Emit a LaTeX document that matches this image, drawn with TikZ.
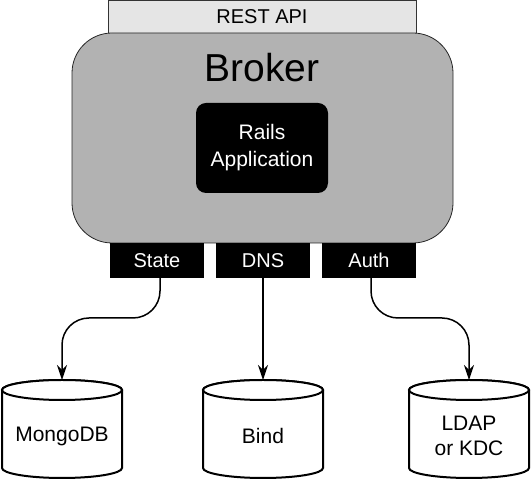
\documentclass[tikz,border=0pt]{standalone}
\usepackage{fontspec}
\setmainfont{Liberation Sans}
\usepackage{tikz}
\usetikzlibrary{arrows.meta}

\tikzset{
  iface/.style={fill=black, text=white, minimum width=94pt, minimum height=35pt,
                inner sep=0pt, font=\fontsize{20}{24}\selectfont},
  dblabel/.style={align=center, font=\fontsize{21}{25}\selectfont},
  dbcyl/.style={line width=2pt, fill=white},
  link/.style={line width=1.5pt, rounded corners=27pt,
               -{Stealth[length=15pt,width=10pt,inset=5pt]}}
}

\begin{document}
\begin{tikzpicture}[x=1pt,y=1pt]
    \useasboundingbox (0,0) rectangle (531,479);

    % REST API strip
    \node (rest) [draw=black!80, fill=black!10, line width=0.8pt, minimum width=308pt,
                  minimum height=33pt, inner sep=0pt, font=\fontsize{20}{24}\selectfont]
                  at (262,462.5) {REST API};

    % Broker
    \node (broker) [draw=black!85, fill=black!30, line width=0.8pt, rounded corners=40pt,
                    minimum width=381pt, minimum height=210pt] at (262.5,341) {};
    \node (brokerlbl) [anchor=base, font=\fontsize{39}{44}\selectfont] at (262,397) {Broker};

    % Rails app
    \node (rails) [fill=black, text=white, rounded corners=10pt, minimum width=132pt,
                   minimum height=90pt, align=center, font=\fontsize{21}{27}\selectfont]
                   at (262,331) {Rails\\Application};

    % Interfaces
    \node (state) [iface] at (157,218.5) {State};
    \node (dns)   [iface] at (263,218.5) {DNS};
    \node (auth)  [iface] at (369,218.5) {Auth};

    % Back ends
    \foreach \nm/\cx/\txt in {mongo/62/MongoDB, bind/263/Bind, ldap/469/{LDAP\\or KDC}}{
        \draw[dbcyl] (\cx-60,89) -- (\cx-60,11)
              arc[start angle=180, end angle=360, x radius=60, y radius=10]
              -- (\cx+60,89)
              arc[start angle=0, end angle=180, x radius=60, y radius=10] -- cycle;
        \draw[dbcyl] (\cx,89) ellipse [x radius=60, y radius=10];
        \coordinate (\nm-top) at (\cx,99);
        \node (\nm) [dblabel] at (\cx,43) {\txt};
    }

    % Links
    \draw[link] ([xshift=3pt]state.south) |- ([yshift=62pt]mongo-top) -- (mongo-top);
    \draw[link] (dns.south) -- (bind-top);
    \draw[link] ([xshift=2pt]auth.south) |- ([yshift=62pt]ldap-top) -- (ldap-top);

\end{tikzpicture}
\end{document}
